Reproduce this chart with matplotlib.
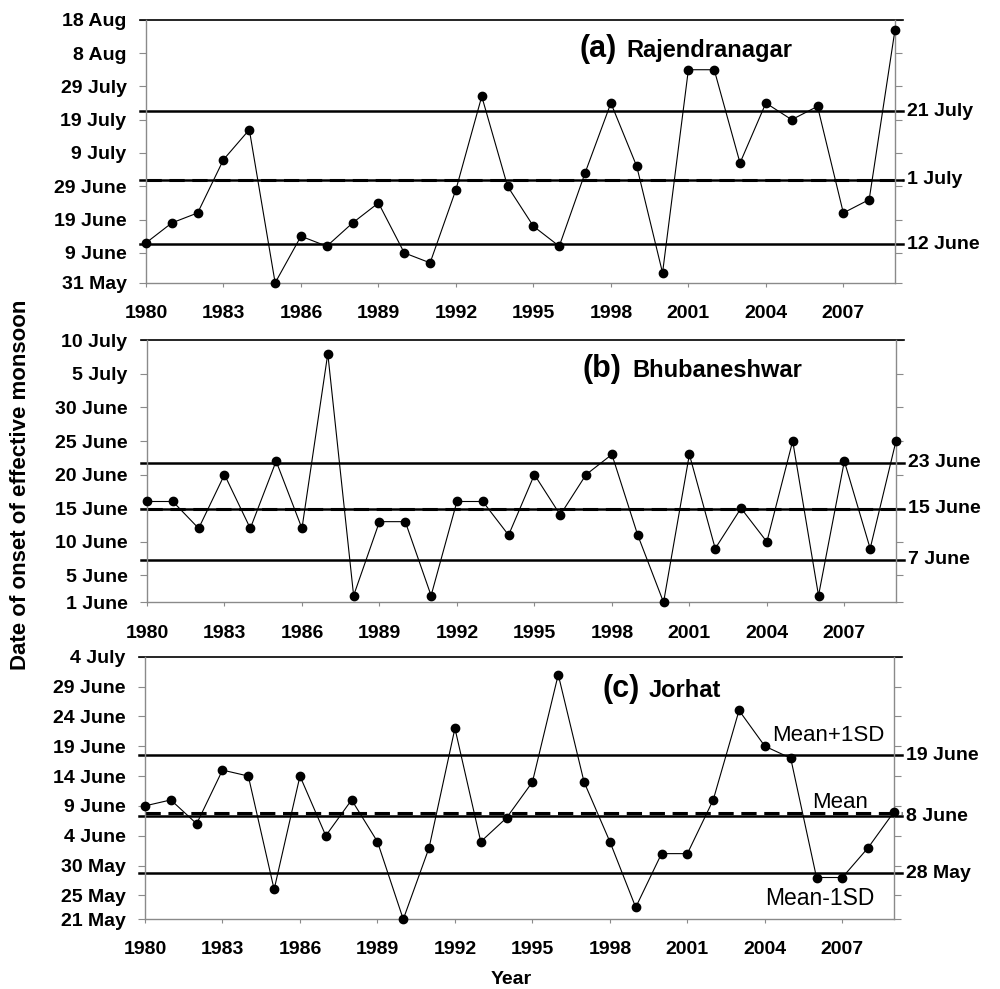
import numpy as np
import matplotlib.pyplot as plt

plt.rcParams['font.family'] = ['Liberation Sans', 'DejaVu Sans']

years = np.arange(1980, 2010)

# onset dates as day of year (1 June = 152)
raj = [163, 169, 172, 188, 197, 151, 165, 162, 169, 175, 160, 157, 179, 207,
       180, 168, 162, 184, 205, 186, 154, 215, 215, 187, 205, 200, 204, 172, 176, 227]
bhu = [167, 167, 163, 171, 163, 173, 163, 189, 153, 164, 164, 153, 167, 167,
       162, 171, 165, 171, 174, 162, 152, 174, 160, 166, 161, 176, 153, 173, 160, 176]
jor = [160, 161, 157, 166, 165, 146, 165, 155, 161, 154, 141, 153, 173, 154,
       158, 164, 182, 164, 154, 143, 152, 152, 161, 176, 170, 168, 148, 148, 153, 159]

# y ticks (day of year) and labels
raj_ticks = [151, 160, 170, 180, 190, 200, 210, 220, 230]
raj_tlabels = ['31 May', '9 June', '19 June', '29 June', '9 July', '19 July',
               '29 July', '8 Aug', '18 Aug']
bhu_ticks = [152, 156, 161, 166, 171, 176, 181, 186, 191]
bhu_tlabels = ['1 June', '5 June', '10 June', '15 June', '20 June', '25 June',
               '30 June', '5 July', '10 July']
jor_ticks = [141, 145, 150, 155, 160, 165, 170, 175, 180, 185]
jor_tlabels = ['21 May', '25 May', '30 May', '4 June', '9 June', '14 June',
               '19 June', '24 June', '29 June', '4 July']

# mean, mean-1SD, mean+1SD lines
raj_lines = [181.9, 162.6, 202.6]
bhu_lines = [165.9, 158.35, 172.8]
jor_lines = [158.3, 148.7, 168.5]
raj_rlabels = ['1 July', '12 June', '21 July']
bhu_rlabels = ['15 June', '7 June', '23 June']
jor_rlabels = ['8 June', '28 May', '19 June']

fig = plt.figure(figsize=(10, 9.89), dpi=100)

panels = [
    ([0.146, 0.714, 0.749, 0.266], raj, raj_ticks, raj_tlabels, raj_lines, raj_rlabels,
     '(a)', 'Rajendranagar', 0.0, (0.579, 0.642, 0.860)),
    ([0.147, 0.391, 0.749, 0.265], bhu, bhu_ticks, bhu_tlabels, bhu_lines, bhu_rlabels,
     '(b)', 'Bhubaneshwar', 0.0, (0.581, 0.6475, 0.858)),
    ([0.145, 0.0705, 0.749, 0.2655], jor, jor_ticks, jor_tlabels, jor_lines, jor_rlabels,
     '(c)', 'Jorhat', 0.45, (0.611, 0.672, 0.845)),
]

grey = '#8a8a8a'
for pos, vals, ticks, tlabels, lines, rlabels, tag, name, off, tpos in panels:
    ax = fig.add_axes(pos)
    ax.set_xlim(1980, 2009)
    ax.set_ylim(ticks[0], ticks[-1])

    mean, lo, hi = lines
    for v in (lo, hi, mean):
        ax.plot([1979.75, 2009.3], [v, v], color='black', lw=1.8, clip_on=False, zorder=2)
    ax.plot([1980, 2009.3], [mean + off, mean + off], color='black', lw=2.2,
            ls=(0, (5, 2.5)), clip_on=False, zorder=2)
    ax.plot([1979.75, 2009.3], [ticks[-1], ticks[-1]], color='black', lw=1.2,
            clip_on=False, zorder=2)

    ax.plot(years, vals, color='black', lw=0.8, marker='o', markersize=6,
            clip_on=False, zorder=3)

    ax.set_yticks(ticks)
    ax.set_yticklabels(tlabels, fontsize=14, fontweight='bold')
    ax.set_xticks(np.arange(1980, 2010, 3))
    ax.set_xticklabels([str(y) for y in range(1980, 2010, 3)], fontsize=14, fontweight='bold')
    ax.tick_params(axis='y', which='both', right=True, direction='out', length=5,
                   color=grey, pad=9)
    ax.tick_params(axis='x', direction='out', length=3, color=grey, pad=13)
    ax.spines['top'].set_visible(False)
    for s in ('left', 'bottom', 'right'):
        ax.spines[s].set_color(grey)
        ax.spines[s].set_linewidth(1.0)

    tr = ax.get_yaxis_transform()
    for v, lab in zip(lines, rlabels):
        ax.text(1.016, v, lab, transform=tr, ha='left', va='center',
                fontsize=14, fontweight='bold')

    tx, nx, ty = tpos
    ax.text(tx, ty, tag, transform=ax.transAxes, ha='left', va='baseline',
            fontsize=22, fontweight='bold')
    ax.text(nx, ty, name, transform=ax.transAxes, ha='left', va='baseline',
            fontsize=17, fontweight='bold')

    if tag == '(c)':
        ax.text(2006.44, 170.9, 'Mean+1SD', ha='center', va='baseline', fontsize=16)
        ax.text(2006.9, 159.65, 'Mean', ha='center', va='baseline', fontsize=16)
        ax.text(2006.13, 143.4, 'Mean-1SD', ha='center', va='baseline', fontsize=16.5)

fig.text(0.021, 0.51, 'Date of onset of effective monsoon', rotation=90,
         ha='center', va='center', fontsize=16, fontweight='bold')
fig.text(0.511, 0.0095, 'Year', ha='center', va='center', fontsize=14, fontweight='bold')

fig.savefig('out.png', dpi=100)
